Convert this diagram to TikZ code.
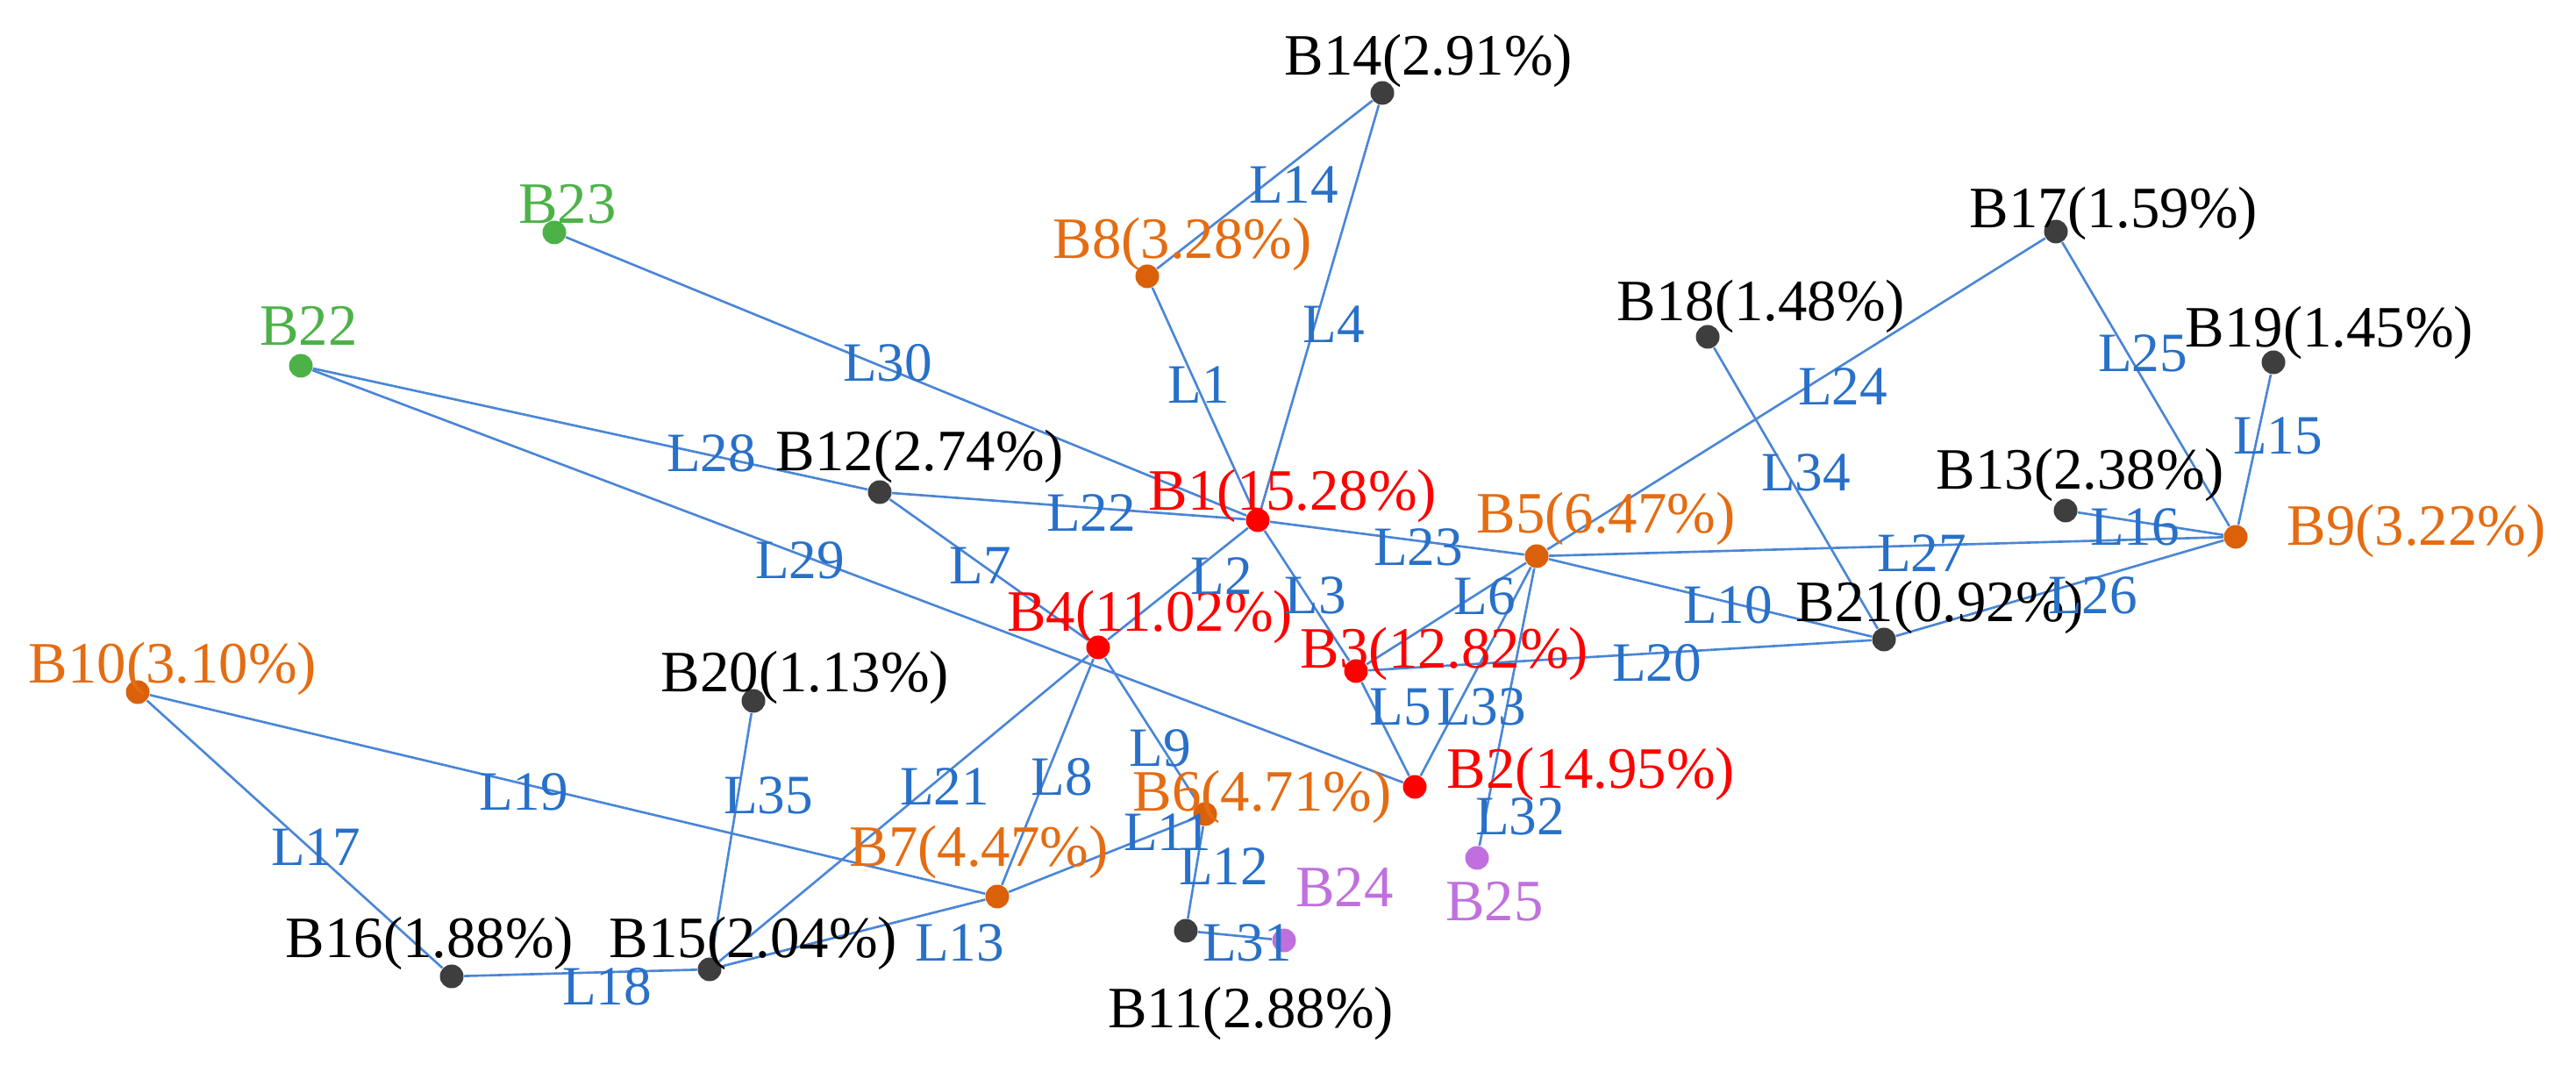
\documentclass[tikz,border=0pt]{standalone}
\usepackage{fontspec}
\setmainfont{Liberation Serif}
\definecolor{lineblue}{RGB}{74,134,214}
\definecolor{labblue}{RGB}{40,112,200}
\definecolor{busred}{RGB}{255,0,0}
\definecolor{busorange}{RGB}{228,108,18}
\definecolor{dotorange}{RGB}{218,96,10}
\definecolor{dotgray}{RGB}{62,62,62}
\definecolor{busgreen}{RGB}{76,178,72}
\definecolor{buspurple}{RGB}{192,112,222}
\tikzset{
  dot/.style={circle,inner sep=0pt,minimum size=0.27cm,draw=none},
  redbus/.style={dot,fill=busred},
  orabus/.style={dot,fill=dotorange},
  graybus/.style={dot,fill=dotgray},
  grnbus/.style={dot,fill=busgreen},
  purbus/.style={dot,fill=buspurple},
  btext/.style={anchor=base,inner sep=0pt,font=\fontsize{19}{22}\selectfont},
  ltext/.style={anchor=base,inner sep=0pt,text=labblue,font=\fontsize{18}{21}\selectfont},
  branch/.style={draw=lineblue,line width=0.75pt}
}
\begin{document}
\begin{tikzpicture}
\useasboundingbox (0,0) rectangle (29.37,12.22);
% buses
\node[redbus] (B1) at (14.34,6.29) {};
\node[redbus] (B2) at (16.13,3.25) {};
\node[redbus] (B3) at (15.46,4.57) {};
\node[redbus] (B4) at (12.52,4.84) {};
\node[orabus] (B5) at (17.52,5.88) {};
\node[orabus] (B6) at (13.74,2.94) {};
\node[orabus] (B7) at (11.37,2.00) {};
\node[orabus] (B8) at (13.08,9.07) {};
\node[orabus] (B9) at (25.49,6.10) {};
\node[orabus] (B10) at (1.57,4.33) {};
\node[graybus] (B11) at (13.52,1.61) {};
\node[graybus] (B12) at (10.03,6.61) {};
\node[graybus] (B13) at (23.55,6.40) {};
\node[graybus] (B14) at (15.76,11.16) {};
\node[graybus] (B15) at (8.09,1.17) {};
\node[graybus] (B16) at (5.15,1.09) {};
\node[graybus] (B17) at (23.44,9.58) {};
\node[graybus] (B18) at (19.47,8.38) {};
\node[graybus] (B19) at (25.92,8.09) {};
\node[graybus] (B20) at (8.59,4.23) {};
\node[graybus] (B21) at (21.48,4.93) {};
\node[grnbus] (B22) at (3.43,8.05) {};
\node[grnbus] (B23) at (6.32,9.57) {};
\node[purbus] (B24) at (14.64,1.50) {};
\node[purbus] (B25) at (16.84,2.44) {};
% branches
\draw[branch] (B8) -- (B1);
\draw[branch] (B4) -- (B1);
\draw[branch] (B1) -- (B3);
\draw[branch] (B14) -- (B1);
\draw[branch] (B3) -- (B2);
\draw[branch] (B3) -- (B5);
\draw[branch] (B12) -- (B4);
\draw[branch] (B4) -- (B7);
\draw[branch] (B4) -- (B6);
\draw[branch] (B5) -- (B21);
\draw[branch] (B7) -- (B6);
\draw[branch] (B6) -- (B11);
\draw[branch] (B15) -- (B7);
\draw[branch] (B8) -- (B14);
\draw[branch] (B19) -- (B9);
\draw[branch] (B13) -- (B9);
\draw[branch] (B10) -- (B16);
\draw[branch] (B16) -- (B15);
\draw[branch] (B10) -- (B7);
\draw[branch] (B3) -- (B21);
\draw[branch] (B4) -- (B15);
\draw[branch] (B12) -- (B1);
\draw[branch] (B1) -- (B5);
\draw[branch] (B5) -- (B17);
\draw[branch] (B17) -- (B9);
\draw[branch] (B21) -- (B9);
\draw[branch] (B5) -- (B9);
\draw[branch] (B22) -- (B12);
\draw[branch] (B22) -- (B2);
\draw[branch] (B23) -- (B1);
\draw[branch] (B11) -- (B24);
\draw[branch] (B5) -- (B25);
\draw[branch] (B5) -- (B2);
\draw[branch] (B18) -- (B21);
\draw[branch] (B20) -- (B15);
% bus labels
\node[btext,text=busred] (t1) at (14.74,6.40) {B1(15.28\%)};
\node[btext,text=busred] (t2) at (18.14,3.23) {B2(14.95\%)};
\node[btext,text=busred] (t3) at (16.47,4.60) {B3(12.82\%)};
\node[btext,text=busred] (t4) at (13.11,5.02) {B4(11.02\%)};
\node[btext,text=busorange] (t5) at (18.31,6.14) {B5(6.47\%)};
\node[btext,text=busorange] (t6) at (14.39,2.97) {B6(4.71\%)};
\node[btext,text=busorange] (t7) at (11.16,2.34) {B7(4.47\%)};
\node[btext,text=busorange] (t8) at (13.48,9.27) {B8(3.28\%)};
\node[btext,text=busorange] (t9) at (27.55,6.00) {B9(3.22\%)};
\node[btext,text=busorange] (t10) at (1.97,4.43) {B10(3.10\%)};
\node[btext] (t11) at (14.26,0.50) {B11(2.88\%)};
\node[btext] (t12) at (10.49,6.85) {B12(2.74\%)};
\node[btext] (t13) at (23.72,6.64) {B13(2.38\%)};
\node[btext] (t14) at (16.29,11.36) {B14(2.91\%)};
\node[btext] (t15) at (8.59,1.30) {B15(2.04\%)};
\node[btext] (t16) at (4.90,1.30) {B16(1.88\%)};
\node[btext] (t17) at (24.10,9.62) {B17(1.59\%)};
\node[btext] (t18) at (20.08,8.56) {B18(1.48\%)};
\node[btext] (t19) at (26.56,8.26) {B19(1.45\%)};
\node[btext] (t20) at (9.18,4.33) {B20(1.13\%)};
\node[btext] (t21) at (22.12,5.13) {B21(0.92\%)};
\node[btext,text=busgreen] (t22) at (3.52,8.28) {B22};
\node[btext,text=busgreen] (t23) at (6.47,9.67) {B23};
\node[btext,text=buspurple] (t24) at (15.33,1.88) {B24};
\node[btext,text=buspurple] (t25) at (17.04,1.72) {B25};
% branch labels
\node[ltext] (l1) at (13.67,7.62) {L1};
\node[ltext] (l2) at (13.93,5.44) {L2};
\node[ltext] (l3) at (15.00,5.22) {L3};
\node[ltext] (l4) at (15.21,8.31) {L4};
\node[ltext] (l5) at (15.97,3.95) {L5};
\node[ltext] (l6) at (16.93,5.21) {L6};
\node[ltext] (l7) at (11.18,5.56) {L7};
\node[ltext] (l8) at (12.11,3.15) {L8};
\node[ltext] (l9) at (13.23,3.48) {L9};
\node[ltext] (l10) at (19.70,5.11) {L10};
\node[ltext] (l11) at (13.31,2.52) {L11};
\node[ltext] (l12) at (13.95,2.13) {L12};
\node[ltext] (l13) at (10.94,1.26) {L13};
\node[ltext] (l14) at (14.75,9.90) {L14};
\node[ltext] (l15) at (25.97,7.04) {L15};
\node[ltext] (l16) at (24.34,6.00) {L16};
\node[ltext] (l17) at (3.60,2.35) {L17};
\node[ltext] (l18) at (6.92,0.76) {L18};
\node[ltext] (l19) at (5.97,2.98) {L19};
\node[ltext] (l20) at (18.89,4.45) {L20};
\node[ltext] (l21) at (10.77,3.04) {L21};
\node[ltext] (l22) at (12.44,6.16) {L22};
\node[ltext] (l23) at (16.17,5.77) {L23};
\node[ltext] (l24) at (21.01,7.60) {L24};
\node[ltext] (l25) at (24.43,7.98) {L25};
\node[ltext] (l26) at (23.86,5.22) {L26};
\node[ltext] (l27) at (21.91,5.70) {L27};
\node[ltext] (l28) at (8.11,6.84) {L28};
\node[ltext] (l29) at (9.12,5.62) {L29};
\node[ltext] (l30) at (10.12,7.87) {L30};
\node[ltext] (l31) at (14.22,1.26) {L31};
\node[ltext] (l32) at (17.33,2.70) {L32};
\node[ltext] (l33) at (16.89,3.95) {L33};
\node[ltext] (l34) at (20.59,6.62) {L34};
\node[ltext] (l35) at (8.76,2.94) {L35};
\end{tikzpicture}
\end{document}
